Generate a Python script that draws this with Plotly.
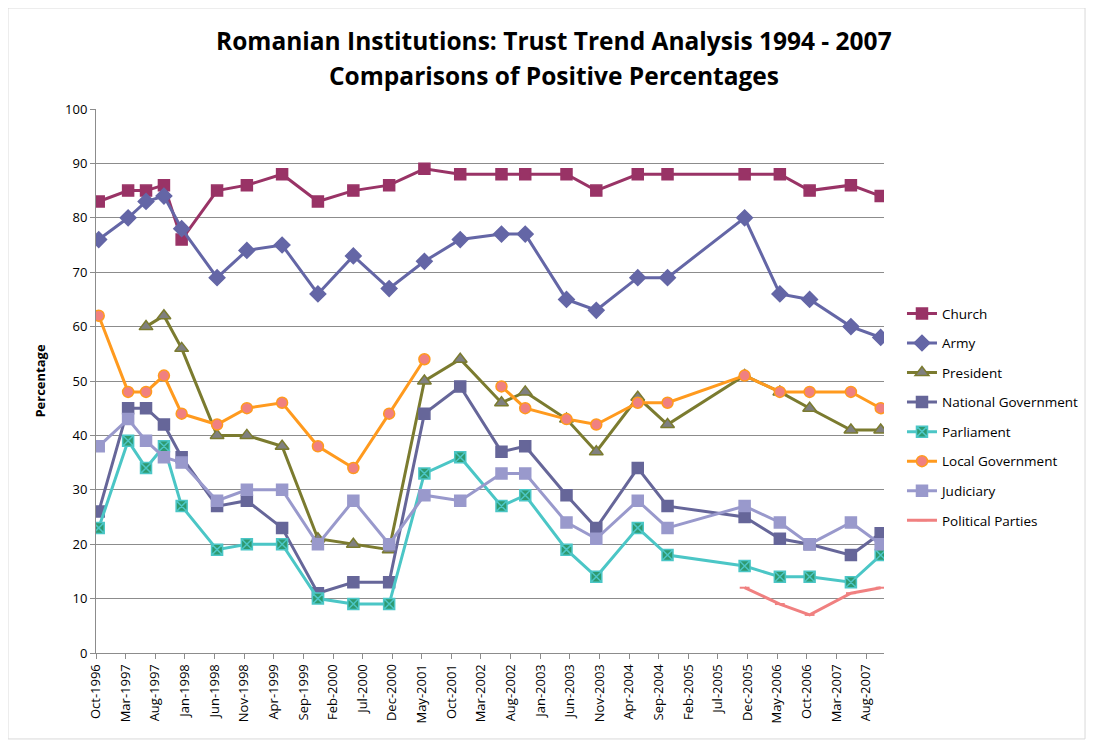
import plotly.graph_objects as go

# survey dates (middle of the month)
dates = ["1996-10-15", "1997-03-15", "1997-06-15", "1997-09-15", "1997-12-15",
         "1998-06-15", "1998-11-15", "1999-05-15", "1999-11-15", "2000-05-15",
         "2000-11-15", "2001-05-15", "2001-11-15", "2002-06-15", "2002-10-15",
         "2003-05-15", "2003-10-15", "2004-05-15", "2004-10-15", "2005-11-15",
         "2006-05-15", "2006-10-15", "2007-05-15", "2007-10-15"]

church = [83, 85, 85, 86, 76, 85, 86, 88, 83, 85, 86, 89, 88, 88, 88, 88, 85, 88, 88, 88, 88, 85, 86, 84]
army = [76, 80, 83, 84, 78, 69, 74, 75, 66, 73, 67, 72, 76, 77, 77, 65, 63, 69, 69, 80, 66, 65, 60, 58]
president = [None, None, 60, 62, 56, 40, 40, 38, 21, 20, 19, 50, 54, 46, 48, 43, 37, 47, 42, 51, 48, 45, 41, 41]
national_gov = [26, 45, 45, 42, 36, 27, 28, 23, 11, 13, 13, 44, 49, 37, 38, 29, 23, 34, 27, 25, 21, 20, 18, 22]
parliament = [23, 39, 34, 38, 27, 19, 20, 20, 10, 9, 9, 33, 36, 27, 29, 19, 14, 23, 18, 16, 14, 14, 13, 18]
local_gov = [62, 48, 48, 51, 44, 42, 45, 46, 38, 34, 44, 54, None, 49, 45, 43, 42, 46, 46, 51, 48, 48, 48, 45]
judiciary = [38, 43, 39, 36, 35, 28, 30, 30, 20, 28, 20, 29, 28, 33, 33, 24, 21, 28, 23, 27, 24, 20, 24, 20]
political_parties = [None] * 19 + [12, 9, 7, 11, 12]

series = [
    # name, values, line colour, marker symbol, marker fill, marker outline, size
    ("Church", church, "#993366", "square", "#993366", "#993366", 11),
    ("Army", army, "#6466A6", "diamond", "#6466A6", "#6466A6", 12),
    ("President", president, "#7B7B2F", "triangle-up", "#808080", "#7B7B2F", 12),
    ("National Government", national_gov, "#666699", "square", "#666699", "#666699", 11),
    ("Parliament", parliament, "#4BC6C6", "square-x", "#2E9A70", "#4BC6C6", 11),
    ("Local Government", local_gov, "#FF9A1E", "circle", "#F08080", "#FF9A1E", 11),
    ("Judiciary", judiciary, "#9999CC", "square", "#9999CC", "#9999CC", 11),
    ("Political Parties", political_parties, "#F08080", "line-ew", "#F08080", "#F08080", 7),
]

fig = go.Figure()
for i, (name, vals, lc, sym, fill, edge, size) in enumerate(series):
    fig.add_trace(go.Scatter(
        x=dates, y=vals, name=name, mode="lines+markers",
        legendgroup=str(i),
        line=dict(color=lc, width=3),
        marker=dict(symbol=sym, size=size, color=fill,
                    line=dict(color=edge, width=1.5 if sym != "line-ew" else 2)),
    ))

text_color = "#000000"
grid_color = "#8C8C8C"

# two title lines
for txt, ypos in [("Romanian Institutions: Trust Trend Analysis 1994 - 2007", 1.1268),
                  ("Comparisons of Positive Percentages", 1.0625)]:
    fig.add_annotation(
        text="<b>" + txt + "</b>",
        xref="paper", yref="paper", x=0.581, y=ypos,
        xanchor="center", yanchor="middle", showarrow=False,
        font=dict(size=24.5, color=text_color, family="Open Sans"),
    )

# light border round the chart area
fig.add_shape(type="rect", xref="paper", yref="paper",
              x0=-0.1117, x1=1.2551, y0=-0.158, y1=1.1857,
              line=dict(color="#D9D9D9", width=1))

fig.update_xaxes(
    type="date", automargin=False,
    range=["1996-10-01", "2007-11-01"],
    tick0="1996-10-01", dtick="M5", tickformat="%b-%Y",
    tickangle=-90, ticks="outside", ticklen=5, tickcolor=grid_color,
    showgrid=False, showline=True, linecolor=grid_color, linewidth=1,
    tickfont=dict(size=13, color=text_color),
)
fig.update_yaxes(
    automargin=False,
    range=[0, 100], dtick=10, ticks="outside", ticklen=5, tickcolor=grid_color,
    showgrid=True, gridcolor=grid_color, gridwidth=1,
    showline=True, linecolor=grid_color, linewidth=1, zeroline=False,
    title=dict(text="<b>Percentage</b>", font=dict(size=13, color=text_color), standoff=16),
    tickfont=dict(size=13, color=text_color),
)

fig.update_layout(
    width=1078, height=732,
    paper_bgcolor="white", plot_bgcolor="white",
    font=dict(family="Open Sans", color=text_color),
    margin=dict(l=88, r=202, t=101, b=87),
    showlegend=True,
    legend=dict(xref="container", x=0.8293, y=0.4335, xanchor="left", yanchor="middle",
                font=dict(size=13.5, color=text_color),
                tracegroupgap=9, itemwidth=30, bgcolor="rgba(0,0,0,0)"),
)

fig.write_html("out.html")
